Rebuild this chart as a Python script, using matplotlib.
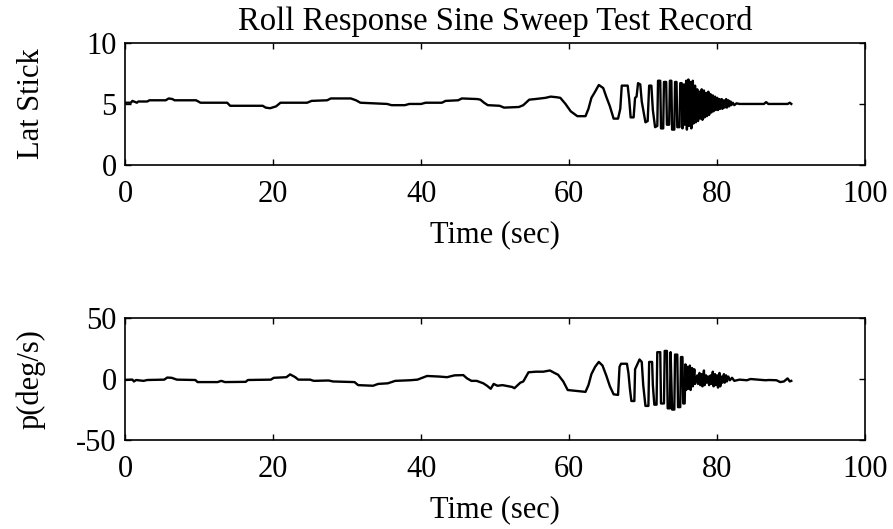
import matplotlib
matplotlib.use("Agg")
import matplotlib.pyplot as plt

plt.rcParams['font.family'] = ['Liberation Serif', 'DejaVu Serif']
plt.rcParams['axes.unicode_minus'] = False

# Lat Stick record (time in sec, stick position)
stick_t = [0, 0.8, 1.0, 1.6, 1.8, 3.0, 3.3, 5.5, 5.9, 6.4, 6.7, 9.6, 10.2, 13.8, 14.2,
           18.6, 19.0, 19.6, 20.4, 21.0, 24.6, 25.2, 27.3, 27.8, 30.5, 31.2, 31.8, 33.5,
           35.4, 36.0, 37.8, 38.4, 40.0, 40.6, 42.8, 43.3, 45.0, 45.5, 47.6, 48.0, 48.5,
           49.0, 50.6, 51.2, 53.2, 53.8, 54.6, 55.4, 56.8, 57.5, 58.3, 58.8, 59.5, 60.2,
           61.1, 62.2, 62.6, 63.0, 63.4, 64.0, 64.6, 65.0, 65.5, 66.0, 66.6, 66.9, 67.1,
           67.9, 68.1, 68.3, 68.7, 68.9, 69.1, 69.3, 69.6, 69.8, 70.3, 70.6, 70.8, 71.1,
           71.3, 71.6, 71.9, 72.0, 72.3, 72.4, 72.7, 72.8, 73.1, 73.2, 73.5, 73.6, 73.8,
           73.9, 74.2, 74.3, 74.5, 74.6, 74.9, 75.0, 75.2, 75.3, 75.5, 75.6, 75.8, 75.9,
           76.1, 76.2, 76.4, 76.5, 76.7, 76.8, 77.0, 77.1, 77.3, 77.4, 77.6, 77.7, 77.9,
           78.0, 78.2, 78.3, 78.5, 78.6, 78.8, 78.9, 79.1, 79.2, 79.4, 79.5, 79.7, 79.8,
           80.0, 80.1, 80.3, 80.4, 80.6, 80.7, 80.9, 81.0, 81.2, 81.3, 81.5, 81.6, 81.8,
           81.9, 82.1, 82.3, 82.6, 83.0, 86.3, 86.6, 86.9, 89.5, 89.8, 90.0]
stick_v = [5.1, 5.1, 5.25, 5.1, 5.2, 5.2, 5.3, 5.3, 5.45, 5.4, 5.3, 5.3, 5.1, 5.1, 4.85,
           4.85, 4.7, 4.65, 4.8, 5.1, 5.1, 5.25, 5.3, 5.45, 5.45, 5.3, 5.1, 5.05,
           5.0, 4.9, 4.9, 5.0, 5.0, 5.1, 5.1, 5.25, 5.3, 5.45, 5.4, 5.35, 5.1,
           4.9, 4.85, 4.7, 4.75, 4.9, 5.35, 5.4, 5.5, 5.6, 5.55, 5.5, 5.0, 4.4,
           4.0, 4.0, 4.6, 5.5, 5.9, 6.55, 6.3, 5.6, 4.8, 3.8, 3.8, 4.6, 6.5,
           6.5, 5.4, 3.9, 3.9, 5.5, 5.6, 6.7, 6.6, 5.2, 3.5, 3.6, 6.5, 6.5,
           4.5, 3.1, 3.2, 6.9, 6.9, 3.0, 3.0, 6.8, 6.8, 3.3, 3.3, 6.9, 6.9,
           2.9, 2.9, 6.8, 6.8, 3.1, 3.1, 6.7, 6.7, 3.0, 6.6, 3.3, 6.9, 2.9,
           7.0, 3.2, 6.8, 3.0, 6.9, 3.4, 6.5, 3.5, 6.2, 3.6, 6.0, 3.8, 6.2,
           3.7, 6.1, 3.9, 5.9, 4.0, 6.0, 4.1, 5.8, 4.3, 5.7, 4.4, 5.6, 4.5,
           5.5, 4.5, 5.4, 4.6, 5.4, 4.6, 5.3, 4.7, 5.4, 4.7, 5.3, 4.8, 5.2,
           4.9, 5.1, 4.9, 5.05, 5.0, 5.0, 5.15, 5.0, 5.0, 5.1, 5.0]

# roll rate record (time in sec, deg/s)
rate_t = [0, 1.0, 1.2, 1.5, 2.5, 3.0, 5.3, 5.7, 6.3, 7.0, 9.5, 9.8, 12.5, 13.0, 13.5,
          16.3, 16.6, 19.7, 20.1, 21.8, 22.3, 23.0, 23.4, 25.0, 25.5, 27.5, 28.1, 31.0,
          31.5, 33.5, 34.2, 35.5, 36.5, 38.5, 39.5, 40.8, 42.5, 43.5, 44.5, 45.7, 46.2,
          46.8, 47.5, 48.4, 48.9, 49.4, 49.8, 50.3, 51.0, 52.3, 52.6, 53.4, 53.8, 54.5,
          55.5, 56.5, 57.4, 58.0, 58.5, 59.2, 59.8, 62.2, 62.6, 63.0, 63.5, 64.0, 64.5,
          65.0, 65.5, 66.0, 66.6, 66.8, 67.0, 67.8, 68.0, 68.2, 68.4, 68.8, 68.9, 69.2,
          69.5, 69.8, 70.0, 70.3, 70.7, 70.8, 71.2, 71.3, 71.5, 71.8, 71.9, 72.3, 72.4,
          72.8, 72.9, 73.2, 73.3, 73.6, 73.7, 73.9, 74.2, 74.3, 74.6, 74.7, 75.0, 75.1,
          75.3, 75.4, 75.6, 75.7, 75.8, 76.0, 76.1, 76.3, 76.4, 76.6, 76.7, 76.9, 77.0,
          77.3, 77.4, 77.6, 77.7, 77.9, 78.0, 78.2, 78.3, 78.5, 78.6, 78.8, 78.9, 79.1,
          79.2, 79.4, 79.5, 79.7, 79.8, 80.0, 80.1, 80.3, 80.4, 80.6, 80.7, 80.9, 81.0,
          81.2, 81.3, 81.5, 81.7, 82.0, 82.3, 83.0, 84.0, 84.5, 85.5, 86.5, 87.0, 88.0,
          88.5, 89.0, 89.5, 89.8, 90.0]
rate_v = [-0.8, -0.5, -2.0, -0.8, -1.5, -0.8, -0.5, 1.2, 1.0, -0.5, -0.8, -2.5, -2.5, -1.5, -2.5,
          -2.3, -0.8, -0.5, 1.0, 1.5, 3.8, 1.5, -0.5, -0.5, -1.5, -1.2, -2.0, -2.5,
          -5.0, -5.5, -4.0, -3.5, -1.5, -1.0, -0.5, 2.5, 2.0, 1.5, 3.0, 3.2, 0.5,
          -1.5, -1.5, -3.5, -5.5, -8.0, -4.0, -5.5, -5.0, -6.5, -7.5, -3.0, -2.0, 5.5,
          6.0, 6.0, 7.0, 5.0, 3.5, -2.0, -9.0, -10.5, -5.0, 4.0, 10.0, 14.0, 11.0,
          3.0, -6.0, -12.5, -13.0, 10.0, 12.5, 12.5, 5.0, -8.0, -18.0, -18.0, 8.0, 12.0,
          16.0, 14.0, -5.0, -22.0, -22.0, 14.0, 14.0, -5.0, -21.0, -21.0, 22.0, 22.0, -20.0,
          -20.0, 23.0, 23.0, -24.0, -24.0, 22.0, -25.0, -25.0, 20.0, 20.0, -23.0, -23.0, 18.0,
          18.0, -20.0, -20.0, 12.0, -9.0, 10.0, -8.0, 11.0, -9.0, 9.0, -6.0, 8.0, -4.0,
          3.0, -4.0, 5.0, -5.0, 4.0, -6.0, 7.0, -5.0, 3.0, -3.0, 2.0, -5.0, 3.0,
          -4.0, 6.0, -6.0, 4.0, -5.0, 3.0, -7.0, 5.0, -6.0, 2.0, -3.0, 4.0, -3.0,
          3.0, -2.0, 2.0, -1.0, 1.0, -1.5, -0.5, -1.0, 0.0, -0.5, -1.0, -0.8, -1.0,
          -2.5, -2.0, 0.5, -2.0, -1.5]

x_ticks = [0, 20, 40, 60, 80, 100]
stick_ticks = [0, 5, 10]
rate_ticks = [-50, 0, 50]

fig = plt.figure(figsize=(8.93, 5.29), dpi=100)
ax1 = fig.add_axes([0.14, 0.688, 0.829, 0.231])
ax2 = fig.add_axes([0.14, 0.168, 0.829, 0.231])

ax1.plot(stick_t, stick_v, color='black', lw=1.7)
ax2.plot(rate_t, rate_v, color='black', lw=1.7)

for ax, yt, lab in [(ax1, stick_ticks, 'Lat Stick'), (ax2, rate_ticks, 'p(deg/s)')]:
    ax.set_xlim(0, 100)
    ax.set_ylim(yt[0], yt[-1])
    ax.set_xticks(x_ticks)
    ax.set_yticks(yt)
    ax.tick_params(direction='in', top=True, right=True, length=4, width=1,
                   labelsize=22, pad=6)
    ax.tick_params(axis='x', pad=11)
    for s in ax.spines.values():
        s.set_linewidth(1.2)
    ax.set_xlabel('Time (sec)', fontsize=22, labelpad=8)
    ax.set_ylabel(lab, fontsize=22)
    # both labels sit at the same x, like the original
    ax.yaxis.set_label_coords(-0.107, 0.5)

ax1.set_title('Roll Response Sine Sweep Test Record', fontsize=23.5, pad=9)

plt.savefig('out.png', dpi=100)
